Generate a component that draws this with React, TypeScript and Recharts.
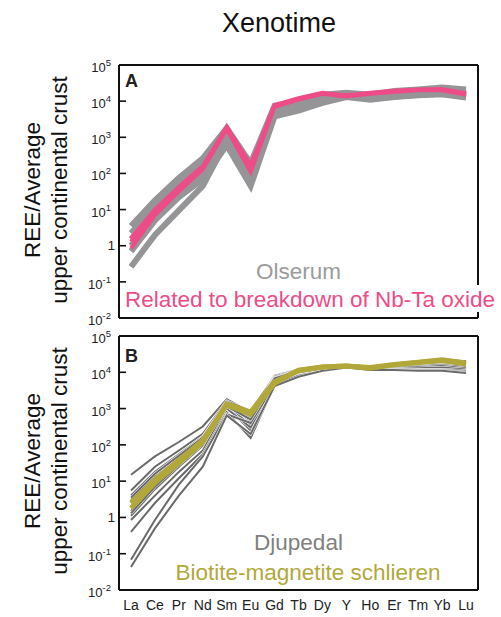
import React from 'react';
import { LineChart, Line, XAxis, YAxis, CartesianGrid } from 'recharts';

const elements = ['La', 'Ce', 'Pr', 'Nd', 'Sm', 'Eu', 'Gd', 'Tb', 'Dy', 'Y', 'Ho', 'Er', 'Tm', 'Yb', 'Lu'];
const yTicks = [0.01, 0.1, 1, 10, 100, 1000, 10000, 100000];

// Panel A – Olserum (grey)
const olserum1 = [3.5, 18, 75, 260, 1800, 190, 7500, 10000, 15000, 17000, 15000, 19000, 21000, 24000, 21000];
const olserum2 = [2.2, 12, 50, 180, 1300, 120, 6000, 8500, 13000, 15000, 13000, 16000, 18000, 20000, 17000];
const olserum3 = [1.5, 8, 35, 120, 900, 70, 5000, 7000, 11000, 14000, 12000, 14000, 16000, 17000, 14000];
const olserum4 = [0.7, 5, 22, 70, 600, 45, 3800, 5500, 9000, 13000, 11000, 13000, 14500, 15500, 12500];
const olserum5 = [0.26, 2, 9.5, 45, 800, 55, 4200, 6000, 9500, 13500, 11500, 13500, 15000, 16000, 13000];
const olserum6 = [1.0, 6, 28, 90, 1100, 90, 5500, 8000, 12000, 15500, 12500, 15000, 17000, 19000, 15500];

// Panel A – related to breakdown of Nb-Ta oxide (pink)
const nbta1 = [1.3, 9.5, 39, 150, 1950, 170, 7800, 12000, 17000, 14000, 17000, 19500, 21000, 21500, 16500];
const nbta2 = [0.85, 7, 32, 130, 1700, 110, 7000, 11000, 16000, 13500, 16000, 18000, 20000, 20000, 15000];
const nbta3 = [1.6, 10, 42, 160, 1800, 140, 7500, 11500, 16500, 14500, 16500, 19000, 20500, 21000, 16000];

// Panel B – Djupedal (dark grey)
const djup1 = [15, 48, 120, 320, 1800, 800, 8000, 12000, 15000, 16000, 14000, 17000, 19000, 22000, 20000];
const djup2 = [5.5, 25, 70, 200, 1600, 850, 7500, 11500, 14500, 15500, 13500, 16500, 19000, 21000, 18000];
const djup3 = [4, 18, 55, 170, 1500, 700, 7000, 11000, 14000, 15000, 13000, 16000, 18000, 20000, 17000];
const djup4 = [3, 14, 45, 150, 1400, 550, 6500, 10500, 13500, 15000, 13000, 15500, 17000, 19000, 16000];
const djup5 = [2, 10, 35, 120, 1300, 450, 6000, 10000, 13000, 14500, 12500, 15000, 16000, 17000, 15000];
const djup6 = [1.5, 8, 30, 110, 1200, 350, 5500, 9500, 12500, 14500, 12500, 14000, 15000, 16000, 14000];
const djup7 = [1.1, 6, 25, 95, 1100, 250, 5000, 9000, 12000, 14000, 12000, 13500, 14000, 15000, 13000];
const djup8 = [0.85, 4, 18, 70, 1000, 300, 4800, 8500, 12000, 14000, 12000, 13000, 13000, 13500, 12000];
const djup9 = [0.4, 2.5, 12, 55, 800, 155, 4500, 8000, 11500, 14000, 12000, 12500, 12000, 12000, 11000];
const djup10 = [0.068, 0.85, 8, 48, 700, 400, 4500, 8000, 11000, 13500, 12000, 12000, 11500, 11500, 10000];
const djup11 = [0.043, 0.5, 4, 25, 650, 200, 4200, 7500, 11000, 13500, 11500, 11500, 11000, 11000, 9500];
const djup12 = [2.5, 12, 40, 140, 1400, 600, 7000, 11000, 14000, 15000, 13000, 16000, 18000, 20000, 17500];
const djup13 = [3.5, 16, 50, 160, 1450, 650, 6800, 10800, 13800, 15200, 13200, 16200, 18500, 20500, 17800];
const djup14 = [1.3, 7, 28, 105, 1150, 500, 5800, 10000, 13000, 14800, 12800, 15500, 17500, 19500, 16500];

// Panel B – biotite-magnetite schlieren (olive)
const schlieren1 = [2.5, 11, 38, 135, 1260, 700, 5000, 11500, 14000, 15000, 13000, 16000, 18500, 21000, 17000];
const schlieren2 = [1.8, 9, 32, 120, 1350, 800, 5500, 11000, 14000, 15000, 13500, 16500, 19000, 22000, 18000];

const olserumSeries = [olserum1, olserum2, olserum3, olserum4, olserum5, olserum6];
const nbtaSeries = [nbta1, nbta2, nbta3];
const djupSeries = [djup1, djup2, djup3, djup4, djup5, djup6, djup7, djup8, djup9, djup10, djup11, djup12, djup13, djup14];
const schlierenSeries = [schlieren1, schlieren2];

const dataA = elements.map((el, i) => {
  const row: any = { el };
  olserumSeries.forEach((s, k) => (row['o' + k] = s[i]));
  nbtaSeries.forEach((s, k) => (row['p' + k] = s[i]));
  return row;
});
const dataB = elements.map((el, i) => {
  const row: any = { el };
  djupSeries.forEach((s, k) => (row['d' + k] = s[i]));
  schlierenSeries.forEach((s, k) => (row['b' + k] = s[i]));
  return row;
});

const FONT = '"Liberation Sans", Arial, Helvetica, sans-serif';
const GREY_A = '#959597';
const PINK = '#ee4c88';
const GREY_B = '#6a6a6a';
const OLIVE = '#b2a83a';

const YTick = (props: any) => {
  const { x, y, payload } = props;
  const exp = Math.round(Math.log10(payload.value));
  return (
    <g>
      <line x1={x} x2={x + 7} y1={y} y2={y} stroke="#111" strokeWidth={1.6} />
      {exp === 0 ? (
        <text x={x - 4} y={y + 4.5} textAnchor="end" fontSize={13} fill="#222" fontFamily={FONT}>
          1
        </text>
      ) : (
        <text x={x - 8} y={y + 7} textAnchor="end" fontSize={13} fill="#222" fontFamily={FONT}>
          10
          <tspan dy={-6} fontSize={9.5}>
            {exp}
          </tspan>
        </text>
      )}
    </g>
  );
};

const XTick = (props: any) => {
  const { x, y, payload } = props;
  return (
    <text x={x} y={y + 20} textAnchor="middle" fontSize={14} fill="#222" fontFamily={FONT}>
      {payload.value}
    </text>
  );
};

const YTitle = ({ cy }: { cy: number }) => (
  <g fontFamily={FONT} fontSize={22.5} fill="#111">
    <text transform={`translate(40,${cy}) rotate(-90)`} textAnchor="middle">
      REE/Average
    </text>
    <text transform={`translate(67,${cy}) rotate(-90)`} textAnchor="middle">
      upper continental crust
    </text>
  </g>
);

const frameH = ({ offset }: any) => [offset.top, offset.top + offset.height];
const frameV = ({ offset }: any) => [offset.left, offset.left + offset.width];

const frameAxes = (showTicks: boolean) => [
  <CartesianGrid
    key="frame"
    stroke="#111"
    strokeWidth={2}
    horizontalCoordinatesGenerator={frameH}
    verticalCoordinatesGenerator={frameV}
  />,
  <XAxis
    key="xb"
    dataKey="el"
    padding={{ left: 12, right: 12 }}
    axisLine={false}
    tickLine={false}
    tickSize={0}
    tickMargin={0}
    interval={0}
    height={showTicks ? 27 : 0}
    tick={showTicks ? <XTick /> : false}
  />,
  <YAxis
    key="yl"
    type="number"
    scale="log"
    domain={[0.01, 100000]}
    allowDataOverflow
    ticks={yTicks}
    interval={0}
    width={119}
    axisLine={false}
    tickLine={false}
    tickSize={0}
    tickMargin={0}
    tick={<YTick />}
  />,
];

export default function App() {
  return (
    <div style={{ position: 'absolute', left: 0, top: 0, width: 501, height: 617, background: '#fff' }}>
      <div style={{ position: 'absolute', left: 0, top: 0 }}>
        <LineChart width={501} height={330} data={dataA} margin={{ top: 65, right: 23, bottom: 12, left: 0 }}>
          {frameAxes(false)}
          {olserumSeries.map((_, k) => (
            <Line
              key={'o' + k}
              dataKey={'o' + k}
              stroke={GREY_A}
              strokeWidth={6}
              dot={false}
              activeDot={false}
              isAnimationActive={false}
            />
          ))}
          {nbtaSeries.map((_, k) => (
            <Line
              key={'p' + k}
              dataKey={'p' + k}
              stroke={PINK}
              strokeWidth={4}
              dot={false}
              activeDot={false}
              isAnimationActive={false}
            />
          ))}
          <text x={279} y={32} textAnchor="middle" fontSize={27} fill="#111" fontFamily={FONT}>
            Xenotime
          </text>
          <text x={125} y={87} fontSize={18} fontWeight="bold" fill="#222" fontFamily={FONT}>
            A
          </text>
          <YTitle cy={190} />
          <text x={298.5} y={279} textAnchor="middle" fontSize={22.5} fill="#9b9b9b" fontFamily={FONT}>
            Olserum
          </text>
          <rect x={121} y={285} width={380} height={27} fill="#fff" />
          <text x={310} y={306.5} textAnchor="middle" fontSize={22.5} fill={PINK} fontFamily={FONT}>
            Related to breakdown of Nb-Ta oxide
          </text>
        </LineChart>
      </div>
      <div style={{ position: 'absolute', left: 0, top: 320 }}>
        <LineChart width={501} height={297} data={dataB} margin={{ top: 16, right: 23, bottom: 0, left: 0 }}>
          {frameAxes(true)}
          {djupSeries.map((_, k) => [
            <Line
              key={'dw' + k}
              dataKey={'d' + k}
              stroke="#ffffff"
              strokeWidth={3}
              dot={false}
              activeDot={false}
              isAnimationActive={false}
            />,
            <Line
              key={'d' + k}
              dataKey={'d' + k}
              stroke={GREY_B}
              strokeWidth={2}
              dot={false}
              activeDot={false}
              isAnimationActive={false}
            />,
          ])}
          {schlierenSeries.map((_, k) => (
            <Line
              key={'b' + k}
              dataKey={'b' + k}
              stroke={OLIVE}
              strokeWidth={5}
              dot={false}
              activeDot={false}
              isAnimationActive={false}
            />
          ))}
          <text x={125} y={42} fontSize={18} fontWeight="bold" fill="#222" fontFamily={FONT}>
            B
          </text>
          <YTitle cy={141} />
          <text x={298.5} y={230} textAnchor="middle" fontSize={22.5} fill="#808080" fontFamily={FONT}>
            Djupedal
          </text>
          <text x={308} y={260} textAnchor="middle" fontSize={22.5} fill={OLIVE} fontFamily={FONT}>
            Biotite-magnetite schlieren
          </text>
        </LineChart>
      </div>
    </div>
  );
}
